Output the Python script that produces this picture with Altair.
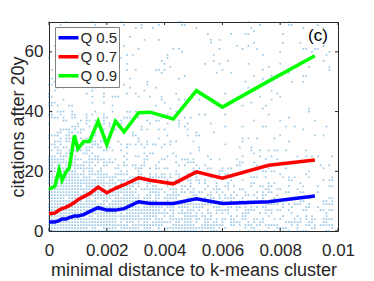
import altair as alt
import pandas as pd

# quantile lines (x = minimal distance, y = citations after 20y)
q_x = [0, 0.0002, 0.00035, 0.00045, 0.0006, 0.0007, 0.00088, 0.001, 0.0012, 0.0014,
       0.0017, 0.002, 0.0023, 0.0026, 0.0031, 0.0035, 0.0043, 0.0051, 0.006, 0.0076, 0.0092]
q50 = [3, 3, 3.5, 4, 4, 4.5, 5, 5, 5.5, 6.5, 7.8, 7, 7, 7.5, 9.8, 9.2, 9.2, 10.8, 9.2, 9.8, 11.7]
q70 = [5.8, 6, 7, 7.5, 8, 8.5, 9.5, 10.5, 11.5, 12.5, 14.7, 12.8, 14.3, 15.5, 17.8, 17, 15.8, 19.8, 17.7, 22, 23.8]
q90 = [14, 15, 20.5, 17, 20, 21, 32, 27.5, 30, 30, 36.8, 29, 36.8, 33.2, 39.6, 39.8, 37.5, 47, 41.5, 50.2, 58.7]
series_names = ["Q 0.5", "Q 0.7", "Q 0.9"]
series_colors = ["#0000FF", "#FF0000", "#00FF00"]

# scatter background: estimated fill fraction of the (0.0001 x 1 citation) grid,
# per x-bin of 0.001 (rows) and y-band of 5 citations (columns)
x_bins = [0, 0.001, 0.002, 0.003, 0.004, 0.005, 0.006, 0.007, 0.008, 0.009]
y_bands = [0, 5, 10, 15, 20, 25, 30, 35, 40, 45, 50, 55, 60, 65]
density = [
    [0.97, 0.97, 0.95, 0.90, 0.80, 0.60, 0.50, 0.35, 0.25, 0.20, 0.12, 0.12, 0.08, 0.08],
    [0.95, 0.95, 0.90, 0.85, 0.60, 0.45, 0.35, 0.25, 0.15, 0.15, 0.08, 0.08, 0.08, 0.08],
    [0.92, 0.88, 0.75, 0.55, 0.40, 0.30, 0.20, 0.20, 0.12, 0.12, 0.07, 0.07, 0.07, 0.07],
    [0.85, 0.75, 0.60, 0.45, 0.30, 0.20, 0.15, 0.15, 0.10, 0.10, 0.06, 0.06, 0.06, 0.06],
    [0.75, 0.65, 0.50, 0.35, 0.25, 0.15, 0.12, 0.12, 0.08, 0.08, 0.05, 0.05, 0.05, 0.05],
    [0.65, 0.55, 0.40, 0.30, 0.20, 0.12, 0.10, 0.10, 0.05, 0.05, 0.05, 0.05, 0.05, 0.05],
    [0.55, 0.45, 0.35, 0.25, 0.15, 0.15, 0.08, 0.08, 0.04, 0.04, 0.04, 0.04, 0.04, 0.04],
    [0.50, 0.40, 0.30, 0.20, 0.12, 0.12, 0.07, 0.07, 0.04, 0.04, 0.04, 0.04, 0.04, 0.04],
    [0.45, 0.35, 0.25, 0.25, 0.10, 0.10, 0.05, 0.05, 0.05, 0.05, 0.05, 0.05, 0.05, 0.05],
    [0.40, 0.30, 0.20, 0.20, 0.10, 0.10, 0.05, 0.05, 0.05, 0.05, 0.05, 0.05, 0.05, 0.05],
]
grid_step_x = 0.0001
n_cols = 99
n_rows = 71

x_ticks = [0, 0.002, 0.004, 0.006, 0.008, 0.01]
y_ticks = [0, 20, 40, 60]

# ---- build tables ----
rows = []
for name, vals in zip(series_names, [q50, q70, q90]):
    for xv, yv in zip(q_x, vals):
        rows.append({"x": xv, "y": yv, "series": name})
lines_df = pd.DataFrame(rows)


def cell_key(i, j):
    # deterministic scramble of grid cells, used to thin the grid to the read density
    h = (i * 73856093) ^ (j * 19349663) ^ ((i * j) * 83492791)
    h = (h ^ (h >> 13)) * 1274126177
    return ((h ^ (h >> 16)) & 0xFFFF) / 65536.0


pts = []
for i in range(n_cols):
    xv = round(i * grid_step_x, 6)
    bi = min(int(i // 10), len(x_bins) - 1)
    for j in range(n_rows):
        bj = min(j // 5, len(y_bands) - 1)
        if cell_key(i, j) < density[bi][bj]:
            pts.append({"x": xv, "y": j})
sc_df = pd.DataFrame(pts)

xt_df = pd.DataFrame({"x": x_ticks})
yt_df = pd.DataFrame({"y": y_ticks})

W, H = 289, 209
FONT = "Liberation Sans"
xscale = alt.Scale(domain=[0, 0.01], nice=False, zero=False)
yscale = alt.Scale(domain=[0, 70], nice=False, zero=False)

xaxis = alt.Axis(values=x_ticks, format=".3~f", title="minimal distance to k-means cluster",
                 ticks=False, domain=False, grid=False, labelPadding=24, labelFlush=False,
                 labelBaseline="alphabetic", titleBaseline="alphabetic", titleY=44)
yaxis = alt.Axis(values=y_ticks, title="citations after 20y", ticks=False, domain=False,
                 grid=False, labelPadding=6, labelFlush=False, titleBaseline="alphabetic",
                 titleX=-26, titleY=104.5, titleAngle=-90)

scatter = alt.Chart(sc_df).mark_square(size=3, opacity=0.38, color="#0072BD").encode(
    x=alt.X("x:Q", scale=xscale, axis=xaxis),
    y=alt.Y("y:Q", scale=yscale, axis=yaxis),
)

lines = alt.Chart(lines_df).mark_line(strokeWidth=3.5).encode(
    x=alt.X("x:Q", scale=xscale),
    y=alt.Y("y:Q", scale=yscale),
    color=alt.Color("series:N", scale=alt.Scale(domain=series_names, range=series_colors),
                    legend=alt.Legend(title=None, symbolType="stroke", symbolSize=400,
                                      symbolStrokeWidth=3.5, labelFontSize=15,
                                      labelFont=FONT, labelColor="#262626",
                                      orient="none", legendX=6, legendY=5,
                                      padding=1.5, rowPadding=0, labelOffset=0,
                                      clipHeight=18.5,
                                      strokeColor="#808080", fillColor="white")),
)

tick_style = dict(color="#262626", strokeWidth=1)
t_bottom = alt.Chart(xt_df).mark_rule(**tick_style).encode(
    x=alt.X("x:Q", scale=xscale), y=alt.value(H), y2=alt.value(H - 3))
t_top = alt.Chart(xt_df).mark_rule(**tick_style).encode(
    x=alt.X("x:Q", scale=xscale), y=alt.value(0), y2=alt.value(3))
t_left = alt.Chart(yt_df).mark_rule(**tick_style).encode(
    y=alt.Y("y:Q", scale=yscale), x=alt.value(0), x2=alt.value(3))
t_right = alt.Chart(yt_df).mark_rule(**tick_style).encode(
    y=alt.Y("y:Q", scale=yscale), x=alt.value(W), x2=alt.value(W - 3))

label = alt.Chart(pd.DataFrame({"t": ["(c)"]})).mark_text(
    fontSize=17, font=FONT, color="#000000").encode(
    text="t:N", x=alt.value(269), y=alt.value(13.5))

chart = alt.layer(scatter, lines, t_bottom, t_top, t_left, t_right, label).properties(
    width=W, height=H,
    autosize=alt.AutoSizeParams(type="none"),
    padding={"left": 41, "top": 14, "right": 20, "bottom": 47},
).configure_view(stroke="#262626", strokeWidth=1).configure_axis(
    labelFont=FONT, titleFont=FONT, labelFontSize=17, titleFontSize=18,
    labelColor="#262626", titleColor="#262626", titleFontWeight="normal",
)

chart.save("out.html", embed_options={"renderer": "svg", "actions": False})
